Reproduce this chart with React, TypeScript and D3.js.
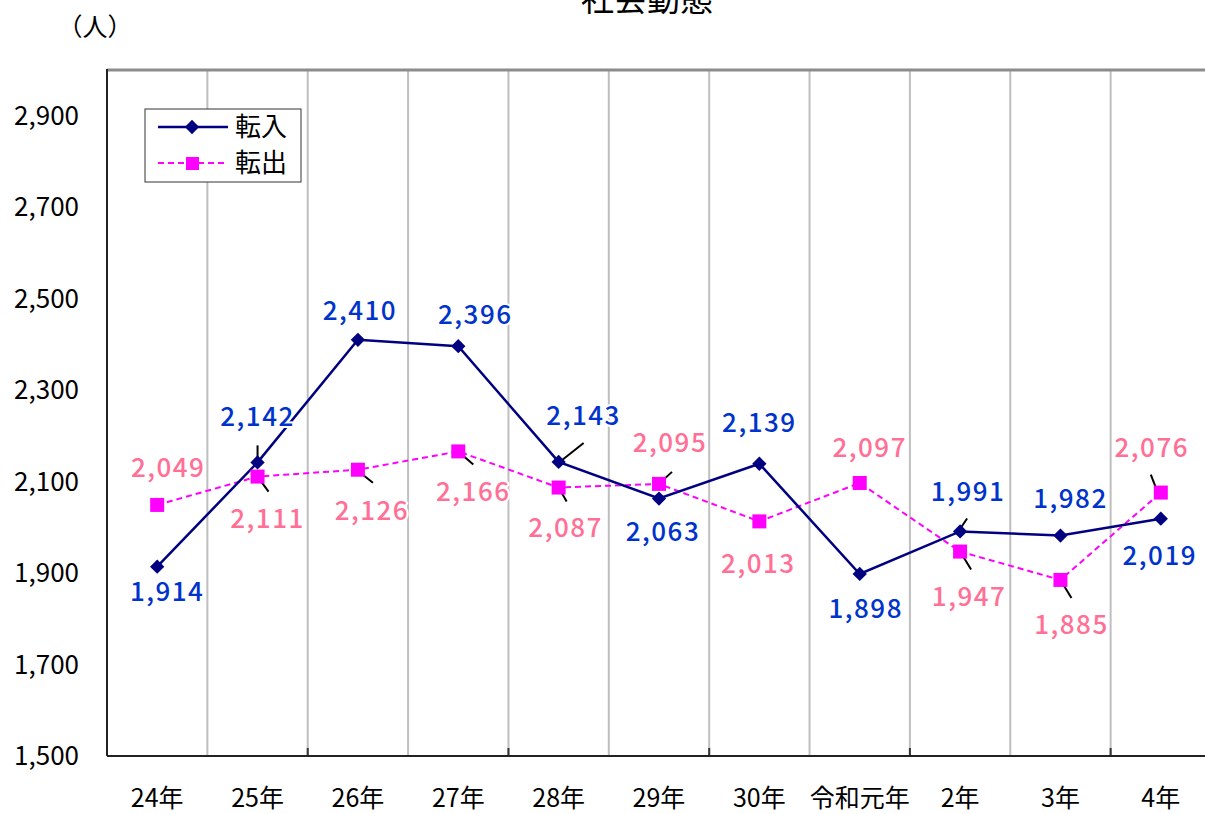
import * as d3 from 'd3';

const categories = ['24年', '25年', '26年', '27年', '28年', '29年', '30年', '令和元年', '2年', '3年', '4年'];
const tennyu = [1914, 2142, 2410, 2396, 2143, 2063, 2139, 1898, 1991, 1982, 2019];
const tenshutsu = [2049, 2111, 2126, 2166, 2087, 2095, 2013, 2097, 1947, 1885, 2076];
const yTicks = [1500, 1700, 1900, 2100, 2300, 2500, 2700, 2900];

// label offsets from each point (dx, dy of text centre)
const inLabelOff = [[10, 25], [0, -45], [2, -29], [17, -31], [25, -46], [4, 33], [0, -41], [6, 35], [8, -40], [10, -37], [-1, 37]];
const outLabelOff = [[11, -37], [10, 42], [14, 41], [15, 40], [7, 40], [11, -41], [-1, 43], [10, -35], [9, 45], [11, 45], [-9, -45]];
// leader lines, offsets from the point: [x1, y1, x2, y2]
const inLeaders: (number[] | null)[] = [null, [0, -17, 0, -2], null, null, [1, 0, 25, -19], null, null, null, [-1, -1, 7, -13], null, null];
const outLeaders: (number[] | null)[] = [null, [0, 0, 11, 15], [0, 1, 15, 13], [0, 0, 15, 13], [0, 0, 8, 14], [0, 0, 13, -12], null, null, [0, 0, 11, 18], [0, 0, 11, 18], [-10, -18, -5, -5]];

const W = 1205;
const H = 814;
const left = 107, right = 1211, top = 70, bottom = 756;

export default function App() {
  const x = d3.scaleBand().domain(categories).range([left, right]);
  const y = d3.scaleLinear().domain([1500, 3000]).range([bottom, top]);
  const cx = (i: number) => (x(categories[i]) as number) + x.bandwidth() / 2;
  const fmt = d3.format(',');

  const line = d3.line<number>().x((_, i) => cx(i)).y((d) => y(d));

  const font = "'Noto Sans CJK JP', 'Noto Sans', sans-serif";
  const inColor = '#000080';
  const outColor = '#ff00ff';
  const inText = '#0033cc';
  const outText = '#ff6f96';

  const labels = (vals: number[], offs: number[][], color: string) =>
    vals.map((v, i) => (
      <text key={i} x={cx(i) + offs[i][0]} y={y(v) + offs[i][1]} dy="0.35em" textAnchor="middle"
        fontSize={26} fontWeight={500} fill={color} stroke="#fff" strokeWidth={4} paintOrder="stroke"
        strokeLinejoin="round" letterSpacing={1.5}>
        {fmt(v)}
      </text>
    ));

  const leaders = (vals: number[], ls: (number[] | null)[]) =>
    vals.map((v, i) => {
      const l = ls[i];
      if (!l) return null;
      return <line key={i} x1={cx(i) + l[0]} y1={y(v) + l[1]} x2={cx(i) + l[2]} y2={y(v) + l[3]} stroke="#000" strokeWidth={2} />;
    });

  return (
    <div style={{ position: 'fixed', left: 0, top: 0 }}>
      <svg width={W} height={H} style={{ display: 'block', background: '#fff' }} fontFamily={font}>
        <text x={647} y={11} textAnchor="middle" fontSize={33} fill="#000">社会動態</text>
        <text x={95} y={27} dy="0.35em" textAnchor="middle" fontSize={25} fill="#000">（人）</text>

        {/* vertical grid */}
        {categories.slice(1).map((c) => (
          <line key={c} x1={x(c)} x2={x(c)} y1={top} y2={bottom} stroke="#bfbfbf" strokeWidth={2} />
        ))}
        {/* inner ticks on x axis */}
        {categories.slice(1).map((c, i) => (i % 2 === 1 ? (
          <line key={c} x1={x(c)} x2={x(c)} y1={bottom - 8} y2={bottom} stroke="#333" strokeWidth={2} />
        ) : null))}

        <line x1={left} x2={right} y1={top} y2={top} stroke="#8c8c8c" strokeWidth={3} />
        <line x1={left} x2={left} y1={top - 1} y2={bottom} stroke="#222" strokeWidth={2} />
        <line x1={left} x2={right} y1={bottom} y2={bottom} stroke="#222" strokeWidth={2} />

        {yTicks.map((t) => (
          <text key={t} x={79} y={y(t)} dy="0.35em" textAnchor="end" fontSize={26} fill="#000">{fmt(t)}</text>
        ))}
        {categories.map((c, i) => (
          <text key={c} x={cx(i)} y={798} dy="0.35em" textAnchor="middle" fontSize={25} fill="#000">{c}</text>
        ))}

        {leaders(tennyu, inLeaders)}
        {leaders(tenshutsu, outLeaders)}

        <path d={line(tenshutsu) || ''} fill="none" stroke={outColor} strokeWidth={2} strokeDasharray="6,4" />
        <path d={line(tennyu) || ''} fill="none" stroke={inColor} strokeWidth={2.5} />
        {tenshutsu.map((v, i) => (
          <rect key={i} x={cx(i) - 7} y={y(v) - 7} width={14} height={14} fill={outColor} />
        ))}
        {tennyu.map((v, i) => (
          <path key={i} d={d3.symbol(d3.symbolDiamond2, 130)() || ''} transform={`translate(${cx(i)},${y(v)})`} fill={inColor} />
        ))}

        {labels(tennyu, inLabelOff, inText)}
        {labels(tenshutsu, outLabelOff, outText)}

        {/* legend */}
        <rect x={145} y={109} width={156} height={73} fill="#fff" stroke="#333" strokeWidth={1} />
        <line x1={158} x2={228} y1={127} y2={127} stroke={inColor} strokeWidth={2.5} />
        <path d={d3.symbol(d3.symbolDiamond2, 130)() || ''} transform="translate(192,127)" fill={inColor} />
        <text x={235} y={127} dy="0.35em" fontSize={26} fill="#000">転入</text>
        <line x1={158} x2={228} y1={163} y2={163} stroke={outColor} strokeWidth={2} strokeDasharray="6,4" />
        <rect x={186} y={157} width={13} height={13} fill={outColor} />
        <text x={235} y={163} dy="0.35em" fontSize={26} fill="#000">転出</text>
      </svg>
    </div>
  );
}
